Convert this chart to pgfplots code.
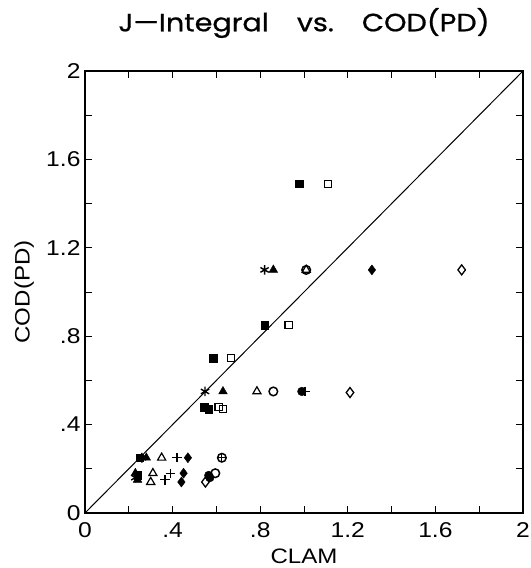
\documentclass[border=0pt]{standalone}
\usepackage{pgfplots}
\pgfplotsset{compat=1.18}
\usepackage{fontspec}
\setmainfont{Liberation Sans}[FakeStretch=1.15]
\newfontfamily\titlefont{Poppins}[FakeStretch=1.15, FakeBold=0.8]
\begin{document}
\begin{tikzpicture}
\begin{axis}[
  name=ax,
  scale only axis,
  width=438bp, height=442bp,
  xmin=0, xmax=2, ymin=0, ymax=2,
  axis line style={line width=1.3pt},
  xtick={0,0.4,0.8,1.2,1.6,2}, ytick={0,0.4,0.8,1.2,1.6,2},
  xticklabels={0,.4,.8,1.2,1.6,2}, yticklabels={0,.4,.8,1.2,1.6,2},
  minor tick num=1,
  tick align=inside,
  major tick length=7bp, minor tick length=7bp,
  every tick/.style={black, line width=0.8pt},
  tick label style={font=\fontsize{21.5}{23}\selectfont},
  xticklabel style={yshift=-6bp},
  yticklabel style={xshift=-1bp},
  xlabel={CLAM}, ylabel={COD(PD)},
  label style={font=\fontsize{21}{23}\selectfont},
  xlabel style={at={(axis description cs:0.5,-0.097)}, anchor=center},
  ylabel style={at={(axis description cs:-0.139,0.5)}, anchor=center},
  clip=false,
]
\addplot[black, line width=1pt] coordinates {(0,0) (2,2)};
% filled squares
\addplot[only marks, mark=square*, mark size=3.8bp, black] coordinates {
(0.977,1.49) (0.82,0.85) (0.585,0.70) (0.545,0.48) (0.565,0.47) (0.25,0.25) (0.24,0.17)};
% open squares
\addplot[only marks, mark=square, mark size=3.6bp, black, mark options={line width=1.2pt}] coordinates {
(1.11,1.49) (0.93,0.85) (0.667,0.70) (0.61,0.48) (0.63,0.47)};
% asterisks
\addplot[only marks, mark=asterisk, mark size=4.8bp, black, mark options={line width=1.4pt}] coordinates {
(0.82,1.10) (0.548,0.55) (0.26,0.25) (0.23,0.16)};
% filled triangles
\addplot[only marks, mark=triangle*, mark size=5bp, black] coordinates {
(0.86,1.10) (0.63,0.55) (0.28,0.25) (0.24,0.15) (0.23,0.18)};
% open triangles
\addplot[only marks, mark=triangle, mark size=4.7bp, black, mark options={line width=1.2pt}] coordinates {
(1.01,1.10) (0.785,0.55) (0.35,0.25) (0.31,0.18) (0.30,0.14)};
% open circles
\addplot[only marks, mark=o, mark size=4.3bp, black, mark options={line width=1.5pt}] coordinates {
(1.01,1.10) (0.86,0.55) (0.625,0.25) (0.595,0.18)};
% filled circles
\addplot[only marks, mark=*, mark size=4.3bp, black] coordinates {
(0.99,0.55) (0.57,0.16) (0.565,0.17)};
% filled diamonds
\addplot[only marks, mark=diamond*, mark size=5bp, black] coordinates {
(1.31,1.10) (0.47,0.25) (0.44,0.14) (0.45,0.18)};
% open diamonds
\addplot[only marks, mark=diamond, mark size=5bp, black, mark options={line width=1.3pt}] coordinates {
(1.72,1.10) (1.21,0.545) (0.55,0.14)};
% plus
\addplot[only marks, mark=+, mark size=4.7bp, black, mark options={line width=1.2pt}] coordinates {
(0.42,0.25) (0.39,0.18) (0.365,0.15) (1.005,0.55) (0.625,0.25)};
\end{axis}
\node[font=\titlefont\fontsize{25}{27}\selectfont, anchor=center] at ([yshift=48bp]ax.north) {J—Integral\hspace{28bp}vs.\hspace{28bp}COD(PD)};
\pgfresetboundingbox
\path[use as bounding box] ([shift={(-85bp,-55bp)}]ax.south west) rectangle ([shift={(8bp,71bp)}]ax.north east);
\end{tikzpicture}
\end{document}
